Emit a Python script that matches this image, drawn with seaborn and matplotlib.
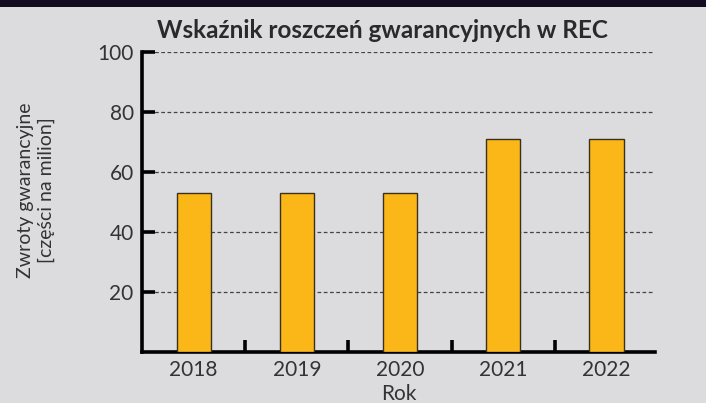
import pandas as pd
import numpy as np
import matplotlib
matplotlib.use("Agg")
import matplotlib.pyplot as plt
import seaborn as sns
from matplotlib.patches import Rectangle
from matplotlib import font_manager as fm

# data
years = ["2018", "2019", "2020", "2021", "2022"]
claims_ppm = [53, 53, 53, 71, 71]
y_ticks = [20, 40, 60, 80, 100]

df = pd.DataFrame({"Rok": years, "ppm": claims_ppm})

sns.set_style("white")
installed = {f.name for f in fm.fontManager.ttflist}
narrow = "Liberation Sans Narrow" if "Liberation Sans Narrow" in installed else "Lato"
plt.rcParams['font.family'] = ['Lato', 'DejaVu Sans']

panel = "#dcdcde"
text_col = "#333333"

fig = plt.figure(figsize=(7.06, 4.03), dpi=100, facecolor=panel)
# dark strip along the top edge
fig.patches.append(Rectangle((0, 1 - 7 / 403), 1, 7 / 403, transform=fig.transFigure,
                             facecolor="#130c20", edgecolor="none", zorder=0))

ax = fig.add_axes([142 / 706, 1 - 352 / 403, 513 / 706, 300 / 403])
ax.set_facecolor(panel)

sns.barplot(data=df, x="Rok", y="ppm", ax=ax, color="#fbb718", width=0.33,
            edgecolor="#3a3020", linewidth=1.0, saturation=1, zorder=3)

ax.set_xlim(-0.5, 4.47)
ax.set_ylim(0, 100)
ax.set_yticks(y_ticks)
ax.yaxis.grid(True, linestyle=(0, (3, 2)), color="#444444", linewidth=0.9, zorder=0)
ax.set_axisbelow(True)

for s in ["top", "right"]:
    ax.spines[s].set_visible(False)
for s in ["left", "bottom"]:
    ax.spines[s].set_linewidth(2.6)
    ax.spines[s].set_color("black")

ax.tick_params(axis="y", left=True, direction="in", length=9, width=2.6, color="black",
               labelsize=15, labelcolor=text_col, pad=6)
ax.tick_params(axis="x", which="major", bottom=True, length=0, labelsize=15,
               labelcolor=text_col, pad=6)

# short upward ticks between the categories
ax.set_xticks([0.5, 1.5, 2.5, 3.5], minor=True)
ax.tick_params(axis="x", which="minor", bottom=True, direction="in", length=9, width=2.6,
               color="black")

for lab in ax.get_yticklabels() + ax.get_xticklabels():
    lab.set_family([narrow, 'DejaVu Sans'])

ax.set_xlabel("Rok", fontsize=15, color=text_col, labelpad=3, family=[narrow, 'DejaVu Sans'])
ax.set_ylabel("")
fig.text(36 / 706, 1 - 190 / 403, "Zwroty gwarancyjne\n[części na milion]", rotation=90,
         ha="center", va="center", fontsize=14, color=text_col, linespacing=1.3,
         family=[narrow, 'DejaVu Sans'])

fig.text(382 / 706, 1 - 30 / 403, "Wskaźnik roszczeń gwarancyjnych w REC", ha="center",
         va="center", fontsize=17.5, fontweight="bold", color="#2a2a2a")

fig.savefig("out.png", dpi=100, facecolor=panel)
